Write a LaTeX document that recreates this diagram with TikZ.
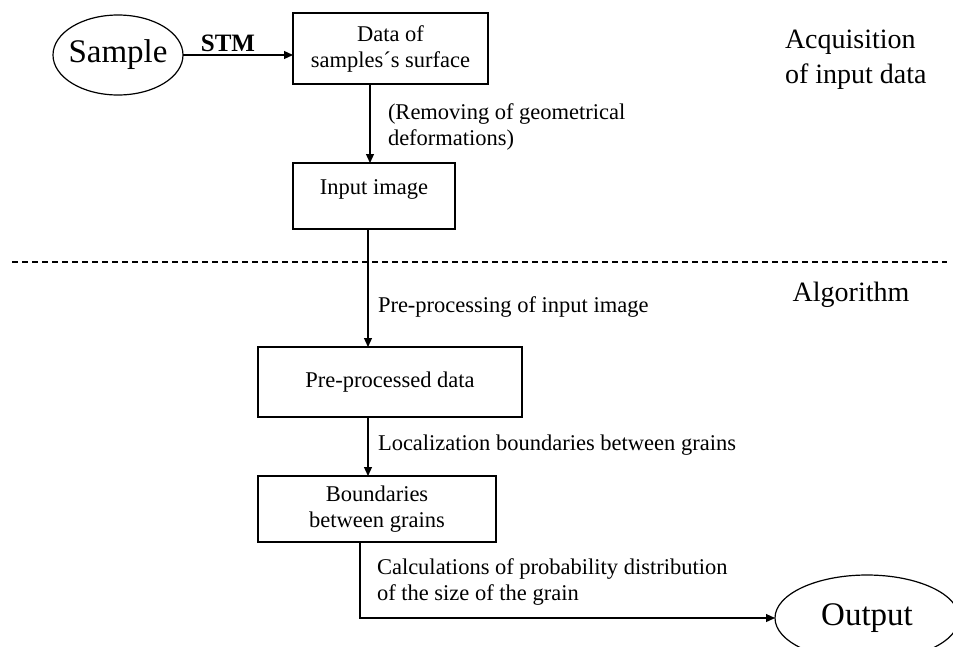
\documentclass[tikz,border=0pt]{standalone}
\usepackage{fontspec}
\setmainfont{Liberation Serif}
\usetikzlibrary{arrows.meta,shapes.geometric}
\begin{document}
\begin{tikzpicture}[x=1pt,y=-1pt,
  every node/.style={inner sep=0pt, outer sep=0pt},
  box/.style={draw, line width=1.2pt, font=\fontsize{22.5}{26}\selectfont, align=center},
  oval/.style={draw, ellipse, line width=1.2pt, font=\fontsize{33}{40}\selectfont},
  lbl/.style={font=\fontsize{22.5}{26}\selectfont, align=left, anchor=west},
  head/.style={font=\fontsize{28}{35}\selectfont, align=left},
  conn/.style={line width=1.2pt, -{Triangle[length=9pt,width=8pt]}},
  sep/.style={line width=1.2pt, dash pattern=on 6pt off 4pt},
]
\clip (0,0) rectangle (953,646);
\fill[white] (0,0) rectangle (953,646);

% nodes
\node[oval, inner xsep=-3.6pt, minimum width=130pt, minimum height=80pt] (sample) at (118,55) {Sample};
\node[box, minimum width=195pt, minimum height=71pt] (data) at (390.5,48.5) {Data of\\samples´s surface};
\node[box, minimum width=162pt, minimum height=66pt, text height=31pt, text depth=35pt] (input) at (374,196) {Input image};
\node[box, minimum width=264pt, minimum height=70pt] (pre) at (390,382) {Pre-processed data};
\node[box, minimum width=238pt, minimum height=66pt] (bnd) at (377,509) {Boundaries\\between grains};
\node[oval, minimum width=184pt, minimum height=86pt] (out) at (867,618) {Output};

% spines
\coordinate (s1) at (370,0);
\coordinate (s2) at (368,0);
\coordinate (s3) at (360,0);

% connectors
\draw[conn] (sample.east) -- (sample.east -| data.west);
\draw[conn] (data.south -| s1) -- (input.north -| s1);
\draw[conn] (input.south -| s2) -- (pre.north -| s2);
\draw[conn] (pre.south -| s2) -- (bnd.north -| s2);
\draw[conn] (bnd.south -| s3) |- (out.west);

% separator
\coordinate (dl) at (12,262);
\coordinate (dr) at (947,262);
\draw[sep] (dl) -- (dr);

% labels
\node[font=\bfseries\fontsize{25}{30}\selectfont] (stm) at (228,43) {STM};
\node[lbl] (l1) at (388,127) {(Removing of geometrical\\deformations)};
\node[lbl] (l2) at (378,307) {Pre-processing of input image};
\node[lbl] (l3) at (378,445) {Localization boundaries between grains};
\node[lbl] (l4) at (377,582) {Calculations of probability distribution\\of the size of the grain};
\node[head, anchor=west] (acq) at (785,60) {Acquisition\\of input data};
\node[head] (alg) at (851,295) {Algorithm};
\end{tikzpicture}
\end{document}
